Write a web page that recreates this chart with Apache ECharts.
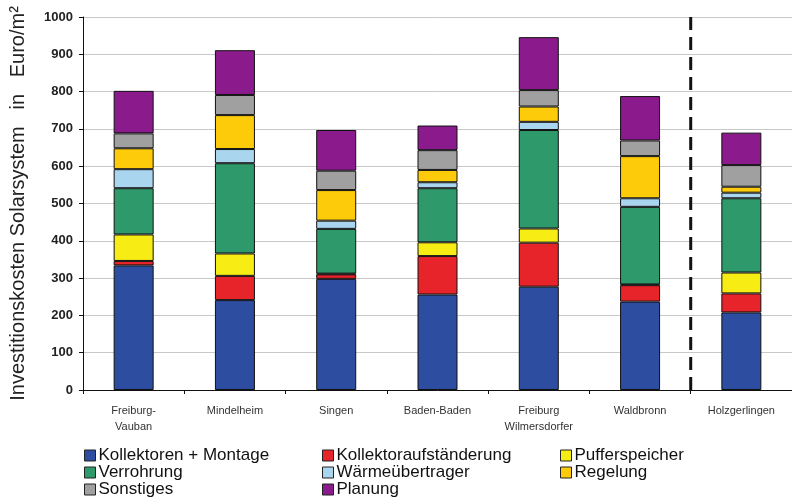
<!DOCTYPE html>
<html>
<head>
<meta charset="utf-8">
<script src="https://cdn.jsdelivr.net/npm/echarts@6/dist/echarts.min.js"></script>
<style>
  html, body { margin: 0; padding: 0; background: #fff; }
  #chart { width: 792px; height: 497px; }
</style>
</head>
<body>
<div id="chart"></div>
<script>
// Sites (categories)
const sites = ['Freiburg-\nVauban', 'Mindelheim', 'Singen', 'Baden-Baden', 'Freiburg\nWilmersdorfer', 'Waldbronn', 'Holzgerlingen'];

// Cost components in Euro/m², stacked bottom to top
const kollektorenMontage   = [334, 241, 298, 256, 277, 237, 208];
const kollektoraufstaender = [12, 65, 12, 103, 118, 44, 51];
const pufferspeicher       = [71, 60, 2, 37, 38, 2, 56];
const verrohrung           = [124, 242, 120, 145, 264, 208, 199];
const waermeuebertrager    = [51, 38, 22, 16, 22, 23, 15];
const regelung             = [56, 91, 82, 33, 41, 113, 16];
const sonstiges            = [40, 54, 52, 53, 44, 42, 58];
const planung              = [114, 120, 109, 66, 142, 119, 87];

// Y-axis ticks
const yMin = 0, yMax = 1000, yStep = 100;

// Separator between the reference sites and Holzgerlingen (category boundary index)
const separatorAt = 6;

const seriesDefs = [
  { name: 'Kollektoren + Montage', data: kollektorenMontage, color: '#2D4DA0' },
  { name: 'Kollektoraufständerung', data: kollektoraufstaender, color: '#E8242B' },
  { name: 'Pufferspeicher', data: pufferspeicher, color: '#F7EC13' },
  { name: 'Verrohrung', data: verrohrung, color: '#2E9A6B' },
  { name: 'Wärmeübertrager', data: waermeuebertrager, color: '#A9D5EF' },
  { name: 'Regelung', data: regelung, color: '#FDCB0A' },
  { name: 'Sonstiges', data: sonstiges, color: '#A0A0A0' },
  { name: 'Planung', data: planung, color: '#8B1B8C' }
];

const barSeries = seriesDefs.map(s => ({
  name: s.name,
  type: 'bar',
  stack: 'total',
  data: s.data,
  barWidth: 40,
  itemStyle: { color: s.color, borderColor: '#111', borderWidth: 1 },
  emphasis: { disabled: true }
}));

const FONT = 'Liberation Sans, Arial, sans-serif';

function legendCol(left, names) {
  return {
    orient: 'vertical', left: left, top: 447, height: 80, itemGap: 0, padding: 0,
    itemWidth: 11, itemHeight: 11, icon: 'rect',
    itemStyle: { borderColor: '#222', borderWidth: 1 },
    textStyle: { fontFamily: FONT, fontSize: 17, color: '#111', lineHeight: 16, padding: [0, 0, 0, -2] },
    data: names, selectedMode: false
  };
}

const chart = echarts.init(document.getElementById('chart'), null, { renderer: 'canvas' });
chart.setOption({
  animation: false,
  backgroundColor: '#fff',
  grid: { left: 82, top: 17, width: 717, height: 373, containLabel: false },
  legend: [
    legendCol(84, ['Kollektoren + Montage', 'Verrohrung', 'Sonstiges']),
    legendCol(322, ['Kollektoraufständerung', 'Wärmeübertrager', 'Planung']),
    legendCol(560, ['Pufferspeicher', 'Regelung'])
  ],
  xAxis: [
    {
      type: 'category', data: sites,
      axisLine: { lineStyle: { color: '#111', width: 1 } },
      axisTick: { show: true, alignWithLabel: false, length: 4, lineStyle: { color: '#111' } },
      axisLabel: { fontFamily: FONT, fontSize: 11, color: '#333', margin: 13, lineHeight: 16, interval: 0 }
    },
    { type: 'value', min: 0, max: sites.length, show: false }
  ],
  yAxis: {
    type: 'value', min: yMin, max: yMax, interval: yStep,
    name: 'Investitionskosten Solarsystem   in   Euro/m²',
    nameLocation: 'middle', nameGap: 55, nameRotate: 90,
    nameTextStyle: { fontFamily: FONT, fontSize: 20, color: '#222' },
    axisLine: { show: true, lineStyle: { color: '#111', width: 1 } },
    axisTick: { show: true, length: 4, lineStyle: { color: '#111' } },
    axisLabel: { fontFamily: FONT, fontSize: 13, fontWeight: 'bold', color: '#222', margin: 10,
                 formatter: v => String(v) },
    splitLine: { lineStyle: { color: '#c8c8c8', width: 1 } }
  },
  series: barSeries.concat([{
    name: 'separator',
    type: 'line',
    xAxisIndex: 1,
    data: [[separatorAt, yMin], [separatorAt, yMax]],
    symbol: 'none',
    lineStyle: { color: '#111', width: 3, type: [13, 7] },
    silent: true,
    z: 5
  }])
});
</script>
</body>
</html>
